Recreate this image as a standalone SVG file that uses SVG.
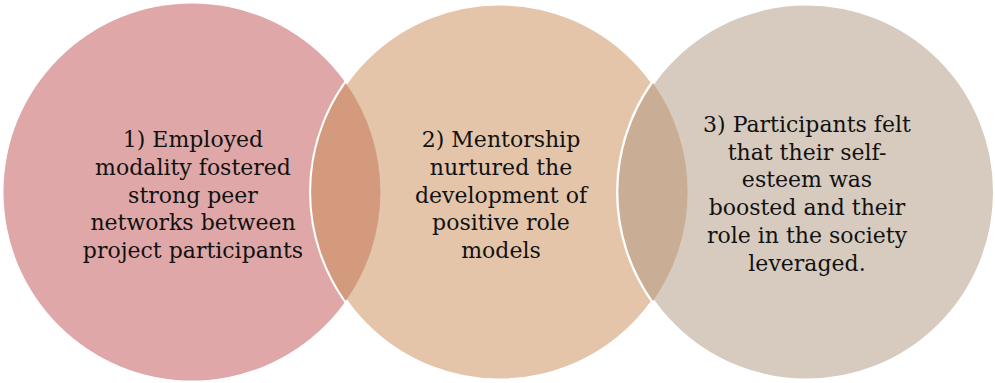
<svg xmlns="http://www.w3.org/2000/svg" width="995" height="383" viewBox="0 0 995 383">
<style>
.t{font-family:"DejaVu Serif","Liberation Serif",serif;font-size:22px;fill:#111;text-anchor:middle}
.c{stroke:#fff;stroke-width:4}
</style>
<rect width="995" height="383" fill="#fff"/>
<g id="node1"><circle cx="192" cy="192" r="188.5" fill="#dfa7a7"/></g>
<g id="node2"><circle class="c" cx="499.5" cy="192" r="188.5" fill="#e4c5aa"/></g>
<g id="node3"><circle class="c" cx="806.5" cy="192" r="188.5" fill="#d7cbbf"/></g>
<g id="overlaps">
<path d="M345.75,83.1 A188.5,188.5 0 0 1 345.75,300.9 A188.5,188.5 0 0 1 345.75,83.1Z" fill="#d49a7e"/>
<path d="M653,83.1 A188.5,188.5 0 0 1 653,300.9 A188.5,188.5 0 0 1 653,83.1Z" fill="#c9ae95"/>
</g>
<g id="labels">
<text class="t"><tspan x="193" y="147">1) Employed</tspan><tspan x="193" y="175">modality fostered</tspan><tspan x="193" y="203">strong peer</tspan><tspan x="193" y="230">networks between</tspan><tspan x="193" y="258">project participants</tspan></text>
<text class="t"><tspan x="501" y="147">2) Mentorship</tspan><tspan x="501" y="175">nurtured the</tspan><tspan x="501" y="203">development of</tspan><tspan x="501" y="230">positive role</tspan><tspan x="501" y="258">models</tspan></text>
<text class="t"><tspan x="807" y="132">3) Participants felt</tspan><tspan x="807" y="160">that their self-</tspan><tspan x="807" y="187">esteem was</tspan><tspan x="807" y="215">boosted and their</tspan><tspan x="807" y="243">role in the society</tspan><tspan x="807" y="271">leveraged.</tspan></text>
</g>
</svg>
